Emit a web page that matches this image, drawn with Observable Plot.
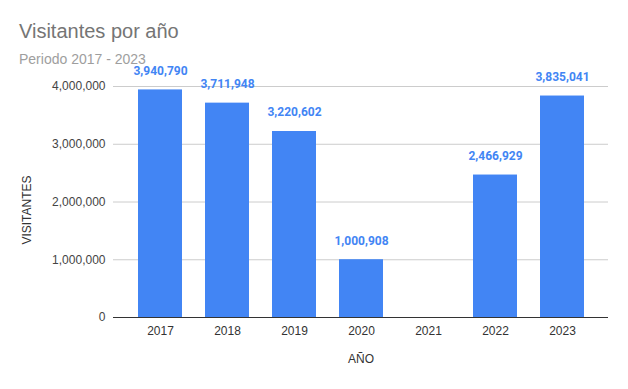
<!DOCTYPE html>
<html>
<head>
<meta charset="utf-8">
<script src="https://cdn.jsdelivr.net/npm/d3@7"></script>
<script src="https://cdn.jsdelivr.net/npm/@observablehq/plot@0.6"></script>
<style>
  html, body { margin: 0; padding: 0; background: #fff; }
  #wrap { width: 628px; height: 389px; position: relative; overflow: hidden; }
  #head { position: relative; height: 64px; }
  #title { position: absolute; left: 19px; top: 21px; font: 20px "Liberation Sans", Arial, sans-serif; line-height: 20px; color: #757575; margin: 0; white-space: nowrap; }
  #subtitle { position: absolute; left: 19px; top: 51px; font: 14px "Liberation Sans", Arial, sans-serif; line-height: 16px; color: #9e9e9e; margin: 0; white-space: nowrap; }
</style>
</head>
<body>
<div id="wrap">
  <div id="head">
    <div id="title">Visitantes por año</div>
    <div id="subtitle">Periodo 2017 - 2023</div>
  </div>
  <div id="chart"></div>
</div>
<script>
const years = ["2017", "2018", "2019", "2020", "2021", "2022", "2023"];
const visitors = [3940790, 3711948, 3220602, 1000908, null, 2466929, 3835041];
const yTicks = [0, 1000000, 2000000, 3000000, 4000000];
const xTitle = "AÑO";
const yTitle = "VISITANTES";

const data = years.map((y, i) => ({year: y, value: visitors[i]}));
const fmt = d3.format(",");
const blue = "#4285f4";

const plot = Plot.plot({
  width: 628,
  height: 325,
  marginTop: 22,
  marginBottom: 72,
  marginLeft: 113,
  marginRight: 20,
  style: {fontFamily: "'Liberation Sans', Arial, sans-serif", fontSize: "12px", color: "#444", overflow: "visible", background: "transparent"},
  x: {type: "band", domain: years, paddingInner: 0.35, paddingOuter: 0.175, insetLeft: 11, insetRight: 11},
  y: {domain: [0, 4000000]},
  marks: [
    Plot.gridY(yTicks, {stroke: "#cccccc", strokeOpacity: 1}),
    Plot.barY(data.filter(d => d.value != null), {x: "year", y: "value", fill: blue}),
    Plot.ruleY([0], {stroke: "#333", strokeWidth: 1}),
    Plot.axisY(yTicks, {tickSize: 0, tickPadding: 8, tickFormat: fmt, label: null, fill: "#444", fontSize: 12}),
    Plot.axisX({tickSize: 0, tickPadding: 9, label: null, fill: "#333", fontSize: 12}),
    Plot.text(data.filter(d => d.value != null && d.value > 0), {
      x: "year", y: "value", text: d => fmt(d.value), dy: -19,
      fill: blue, fontWeight: "bold", fontSize: 12, fontFamily: "Roboto, sans-serif"
    }),
    Plot.text([xTitle], {frameAnchor: "bottom", dy: 45, fill: "#333", fontSize: 12}),
    Plot.text([yTitle], {frameAnchor: "left", textAnchor: "middle", dx: -86, dy: 8, rotate: -90, fill: "#333", fontSize: 12})
  ]
});
document.getElementById("chart").appendChild(plot);
</script>
</body>
</html>
